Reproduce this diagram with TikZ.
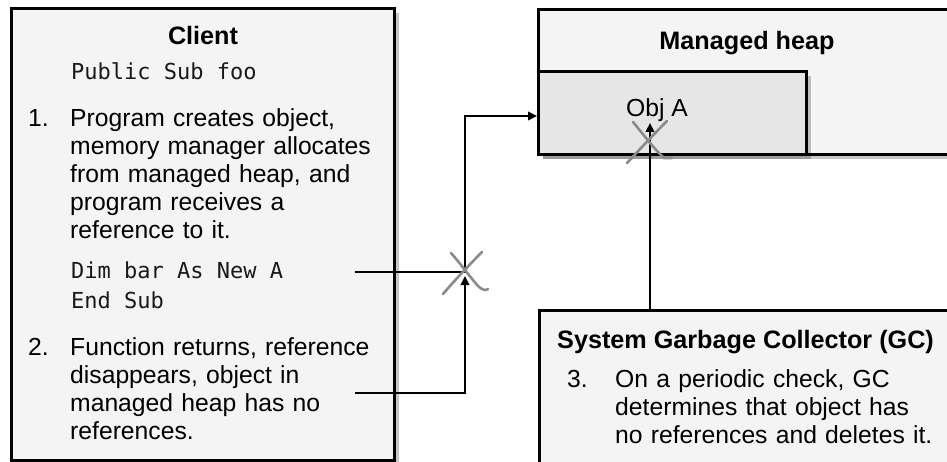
\documentclass[tikz,border=0pt]{standalone}
\usepackage{fontspec}
\setmainfont{Liberation Sans}
\newfontfamily\codefont{DejaVu Sans Mono}
\usetikzlibrary{arrows.meta,shadows}

\definecolor{panel}{HTML}{F4F4F4}
\definecolor{objfill}{HTML}{E6E6E6}
\definecolor{crossgray}{HTML}{8A8A8A}

% fixed-width gap between words of code
\newcommand\codegap{\hspace*{0.602em}}

\tikzset{
  panelbox/.style={draw=black, line width=2.8pt, fill=panel, inner sep=0pt,
    anchor=north west,
    drop shadow={shadow xshift=4.5pt, shadow yshift=-4.5pt, fill=black, opacity=0.22}},
  objbox/.style={panelbox, fill=objfill},
  body/.style={inner sep=0pt, anchor=base west, font=\fontsize{24.7}{28}\selectfont},
  para/.style={body, text width=340pt, align=left},
  title/.style={inner sep=0pt, anchor=base, font=\fontsize{25.2}{28}\selectfont\bfseries},
  code/.style={inner sep=0pt, anchor=base west, text width=300pt, align=left,
    font=\codefont\fontsize{22}{29}\selectfont, text=black!90},
  conn/.style={draw=black, line width=2.2pt},
  tip/.style={-{Triangle[length=9pt,width=8.5pt]}},
  xmark/.style={draw=crossgray, line width=2.6pt, line cap=round}
}

\begin{document}
\begin{tikzpicture}[x=1pt, y=-1pt]
\useasboundingbox (0,0) rectangle (947,462);
\clip (0,0) rectangle (947,462);

% panels
\node[panelbox, minimum width=383pt, minimum height=452pt] (client) at (10,7) {};
\node[panelbox, minimum width=430pt, minimum height=145pt] (heap) at (537,8) {};
\node[objbox, minimum width=268pt, minimum height=83pt] (obj) at (537,70) {};
\node[panelbox, minimum width=430pt, minimum height=180pt] (gc) at (538,309) {};

% client panel text
\node[title] (clienttitle) at (203,45) {Client};
\node[code] (code1) at (71,80) {Public\codegap Sub\codegap foo};
\node[body] (n1) at (28,127) {1.};
\node[para] (p1) at (70,127) {Program creates object,\\memory manager allocates\\from managed heap, and\\program receives a\\reference to it.};
\node[code] (code2) at (71,279) {Dim\codegap bar\codegap As\codegap New\codegap A\\End\codegap Sub};
\node[body] (n2) at (28,355) {2.};
\node[para] (p2) at (70,355) {Function returns, reference\\disappears, object in\\managed heap has no\\references.};

% heap panel text
\node[title] (heaptitle) at (747,50) {Managed heap};
\node[body] (objlabel) at (626,117) {Obj A};

% collector panel text
\node[title, anchor=base west] (gctitle) at (557,348) {System Garbage Collector (GC)};
\node[body] (n3) at (567,387) {3.};
\node[para] (p3) at (615,387) {On a periodic check, GC\\determines that object has\\no references and deletes it.};

% connectors
\coordinate (d0) at (355,272);
\coordinate (x1) at (465,272);
\coordinate (h1) at (465,116);
\coordinate (r0) at (355,393);
\coordinate (g1) at (650,123);
\coordinate (x2) at (650,142);

\draw[conn, tip] (d0) -- (x1) |- (obj.west |- h1);
\draw[conn, tip, shorten >=4pt] (r0) -| (x1);
\draw[conn, tip] (gc.north -| g1) -- (g1);

% crossed-out references
\begin{scope}[shift={(x1)}]
  \draw[xmark] (-22,22) .. controls (-10,8) and (5,-8) .. (17,-20);
  \draw[xmark] (-14,-19) .. controls (-5,-9) and (5,5) .. (13,14)
                         .. controls (17,18) and (21,19) .. (23,17);
\end{scope}
\begin{scope}[shift={(x2)}]
  \draw[xmark] (-23,21) .. controls (-10,7) and (5,-9) .. (17,-21);
  \draw[xmark] (-17,-20) .. controls (-7,-8) and (5,8) .. (14,16) -- (22,16);
\end{scope}
\end{tikzpicture}
\end{document}
